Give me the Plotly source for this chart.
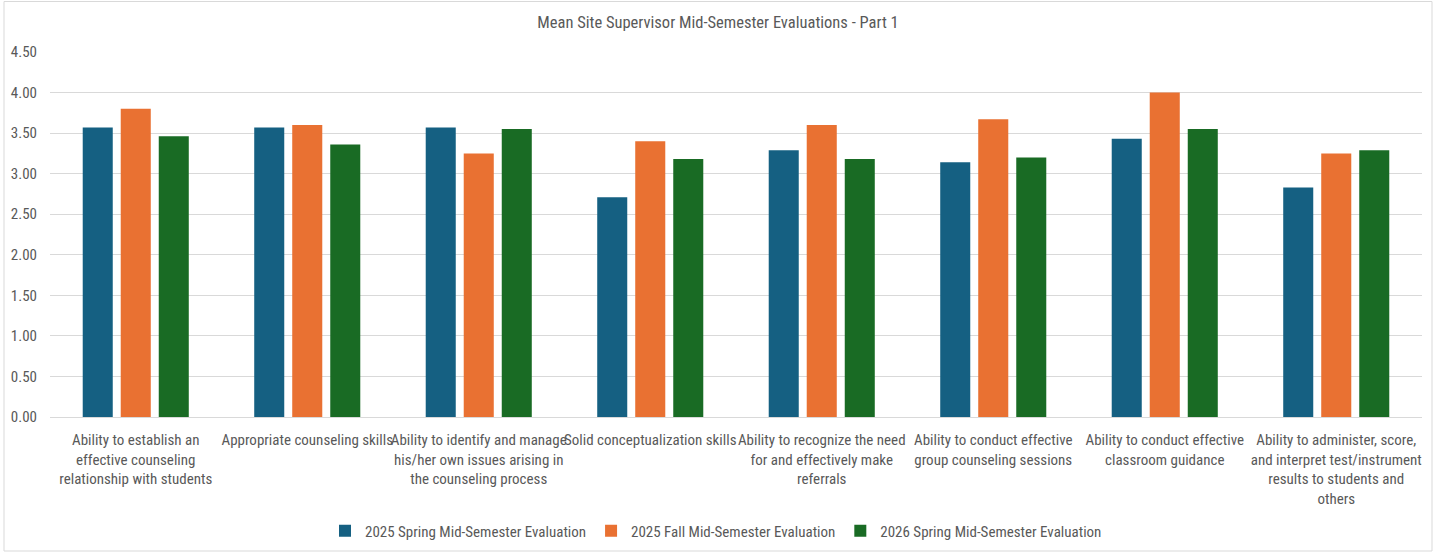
import plotly.graph_objects as go

categories = [
    "Ability to establish an<br>effective counseling<br>relationship with students",
    "Appropriate counseling skills",
    "Ability to identify and manage<br>his/her own issues arising in<br>the counseling process",
    "Solid conceptualization skills",
    "Ability to recognize the need<br>for and effectively make<br>referrals",
    "Ability to conduct effective<br>group counseling sessions",
    "Ability to conduct effective<br>classroom guidance",
    "Ability to administer, score,<br>and interpret test/instrument<br>results to students and<br>others",
]
spring_2025 = [3.57, 3.57, 3.57, 2.71, 3.29, 3.14, 3.43, 2.83]
fall_2025 = [3.80, 3.60, 3.25, 3.40, 3.60, 3.67, 4.00, 3.25]
spring_2026 = [3.46, 3.36, 3.55, 3.18, 3.18, 3.20, 3.55, 3.29]

series_names = [
    "2025 Spring Mid-Semester Evaluation",
    "2025 Fall Mid-Semester Evaluation",
    "2026 Spring Mid-Semester Evaluation",
]
colors = ["#156082", "#E97132", "#196B24"]

W, H = 1437, 552
L, R, T, B = 50, 15, 52, 135
PW, PH = W - L - R, H - T - B

x_idx = list(range(len(categories)))
fig = go.Figure()
for name, vals, c in zip(series_names, [spring_2025, fall_2025, spring_2026], colors):
    fig.add_trace(go.Bar(x=x_idx, y=vals, name=name, marker=dict(color=c, line=dict(width=0))))

font_family = "Liberation Sans Narrow, Roboto Condensed, Roboto, Liberation Sans, Arial"
fig.update_layout(
    width=W, height=H,
    margin=dict(l=L, r=R, t=T, b=B),
    paper_bgcolor="white", plot_bgcolor="white",
    font=dict(family=font_family, size=15, color="#595959"),
    title=dict(text="Mean Site Supervisor Mid-Semester Evaluations - Part 1",
               x=718 / W, xanchor="center", y=1 - 22 / H, yanchor="middle",
               yref="container",
               font=dict(size=16.5, color="#595959")),
    barmode="group", bargap=0.335, bargroupgap=0.21,
    xaxis=dict(tickmode="array", tickvals=x_idx, ticktext=categories, tickangle=0,
               showgrid=False, showline=True, linecolor="#D9D9D9", linewidth=1,
               ticks="", ticklabelstandoff=9,
               tickfont=dict(size=15, color="#595959"), range=[-0.5, 7.5],
               automargin=False),
    yaxis=dict(range=[0, 4.5], dtick=0.5, tickformat=".2f", showgrid=True,
               gridcolor="#D9D9D9", gridwidth=1, zeroline=False, showline=False,
               ticks="", ticklabelstandoff=12,
               tickfont=dict(size=15, color="#595959"), automargin=False),
    legend=dict(orientation="h", x=(716 - L) / PW, xanchor="center",
                yref="container", y=1 - 531 / H, yanchor="middle",
                font=dict(size=15, color="#595959"), traceorder="normal",
                itemwidth=30),
    shapes=[dict(type="rect", xref="paper", yref="paper",
                 x0=(4 - L) / PW, x1=(1432 - L) / PW,
                 y0=-(551 - (T + PH)) / PH, y1=1 + (T - 1.5) / PH,
                 line=dict(color="#D9D9D9", width=1), fillcolor="rgba(0,0,0,0)")],
)
fig.write_html(
    "out.html",
    config={"displayModeBar": False},
    post_script="document.body.style.margin='0';document.body.style.overflow='hidden';",
)
